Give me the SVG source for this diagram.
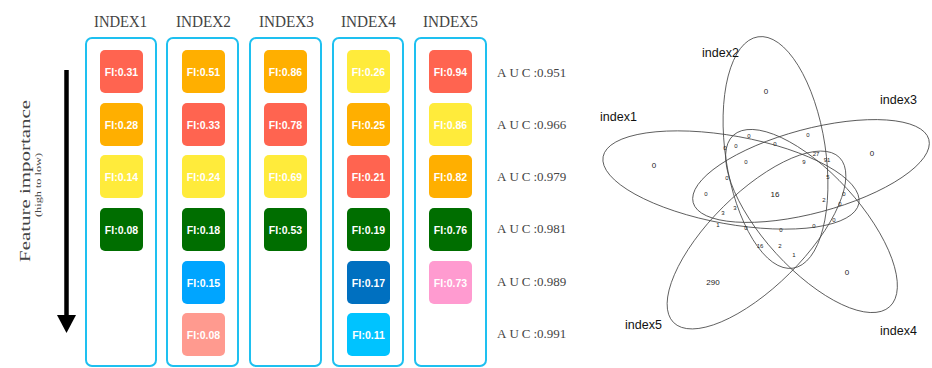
<svg xmlns="http://www.w3.org/2000/svg" width="932" height="368" viewBox="0 0 932 368">
<style>
.hdr{font-family:"Liberation Serif",serif;font-size:17px;fill:#444}
.col{fill:none;stroke:#1EC0F0;stroke-width:2}
.fi{stroke:none}
.fit{font-family:"Liberation Sans",Arial,sans-serif;font-size:10.5px;font-weight:bold;fill:#fff;text-anchor:middle}
.auc{font-family:"Liberation Serif",serif;font-size:13px;fill:#444}
.ax{font-family:"Liberation Serif",serif;fill:#444;text-anchor:middle}
.ell{fill:none;stroke:#444;stroke-width:0.8}
.sn{font-family:"Liberation Sans",Arial,sans-serif;font-size:12.5px;fill:#111}
.n{font-family:"Liberation Sans",Arial,sans-serif;font-size:6px;fill:#222;text-anchor:middle}
.nb{font-family:"Liberation Sans",Arial,sans-serif;font-size:8px;fill:#222;text-anchor:middle}
.red{fill:#FF6450}.org{fill:#FFAF00}.yel{fill:#FFEB3B}.grn{fill:#006E00}.blu{fill:#00A5FF}.sal{fill:#FF9A8F}.dbl{fill:#0070C0}.cyn{fill:#00C3FF}.pnk{fill:#FF9BD0}
</style>

<g id="axis">
<line x1="66.5" y1="70" x2="66.5" y2="318" stroke="#000" stroke-width="4.5"/>
<polygon points="57,315 76,315 66.5,333" fill="#000"/>
<text class="ax" font-size="15" transform="translate(30,181) rotate(-90)" textLength="162" lengthAdjust="spacingAndGlyphs">Feature importance</text>
<text class="ax" font-size="9" transform="translate(41,185) rotate(-90)" textLength="64" lengthAdjust="spacingAndGlyphs">(high to low)</text>
</g>

<g id="index1">
<text class="hdr" x="94" y="27" textLength="53" lengthAdjust="spacingAndGlyphs">INDEX1</text>
<rect class="col" x="86" y="38" width="70" height="328" rx="6"/>
<rect class="fi red" x="100" y="50" width="43" height="43" rx="5"/><text class="fit" x="121.5" y="75.5">FI:0.31</text>
<rect class="fi org" x="100" y="103" width="43" height="43" rx="5"/><text class="fit" x="121.5" y="128.5">FI:0.28</text>
<rect class="fi yel" x="100" y="155" width="43" height="43" rx="5"/><text class="fit" x="121.5" y="180.5">FI:0.14</text>
<rect class="fi grn" x="100" y="208" width="43" height="43" rx="5"/><text class="fit" x="121.5" y="233.5">FI:0.08</text>
</g>

<g id="index2">
<text class="hdr" x="176" y="27" textLength="55" lengthAdjust="spacingAndGlyphs">INDEX2</text>
<rect class="col" x="167" y="38" width="71" height="328" rx="6"/>
<rect class="fi org" x="182" y="50" width="43" height="43" rx="5"/><text class="fit" x="203.5" y="75.5">FI:0.51</text>
<rect class="fi red" x="182" y="103" width="43" height="43" rx="5"/><text class="fit" x="203.5" y="128.5">FI:0.33</text>
<rect class="fi yel" x="182" y="155" width="43" height="43" rx="5"/><text class="fit" x="203.5" y="180.5">FI:0.24</text>
<rect class="fi grn" x="182" y="208" width="43" height="43" rx="5"/><text class="fit" x="203.5" y="233.5">FI:0.18</text>
<rect class="fi blu" x="182" y="261" width="43" height="43" rx="5"/><text class="fit" x="203.5" y="286.5">FI:0.15</text>
<rect class="fi sal" x="182" y="313" width="43" height="43" rx="5"/><text class="fit" x="203.5" y="338.5">FI:0.08</text>
</g>

<g id="index3">
<text class="hdr" x="259" y="27" textLength="55" lengthAdjust="spacingAndGlyphs">INDEX3</text>
<rect class="col" x="250" y="38" width="71" height="328" rx="6"/>
<rect class="fi org" x="264" y="50" width="43" height="43" rx="5"/><text class="fit" x="285.5" y="75.5">FI:0.86</text>
<rect class="fi red" x="264" y="103" width="43" height="43" rx="5"/><text class="fit" x="285.5" y="128.5">FI:0.78</text>
<rect class="fi yel" x="264" y="155" width="43" height="43" rx="5"/><text class="fit" x="285.5" y="180.5">FI:0.69</text>
<rect class="fi grn" x="264" y="208" width="43" height="43" rx="5"/><text class="fit" x="285.5" y="233.5">FI:0.53</text>
</g>

<g id="index4">
<text class="hdr" x="341" y="27" textLength="55" lengthAdjust="spacingAndGlyphs">INDEX4</text>
<rect class="col" x="333" y="38" width="70" height="328" rx="6"/>
<rect class="fi yel" x="347" y="50" width="43" height="43" rx="5"/><text class="fit" x="368.5" y="75.5">FI:0.26</text>
<rect class="fi org" x="347" y="103" width="43" height="43" rx="5"/><text class="fit" x="368.5" y="128.5">FI:0.25</text>
<rect class="fi red" x="347" y="155" width="43" height="43" rx="5"/><text class="fit" x="368.5" y="180.5">FI:0.21</text>
<rect class="fi grn" x="347" y="208" width="43" height="43" rx="5"/><text class="fit" x="368.5" y="233.5">FI:0.19</text>
<rect class="fi dbl" x="347" y="261" width="43" height="43" rx="5"/><text class="fit" x="368.5" y="286.5">FI:0.17</text>
<rect class="fi cyn" x="347" y="313" width="43" height="43" rx="5"/><text class="fit" x="368.5" y="338.5">FI:0.11</text>
</g>

<g id="index5">
<text class="hdr" x="423" y="27" textLength="55" lengthAdjust="spacingAndGlyphs">INDEX5</text>
<rect class="col" x="415" y="38" width="71" height="328" rx="6"/>
<rect class="fi red" x="429" y="50" width="43" height="43" rx="5"/><text class="fit" x="450.5" y="75.5">FI:0.94</text>
<rect class="fi yel" x="429" y="103" width="43" height="43" rx="5"/><text class="fit" x="450.5" y="128.5">FI:0.86</text>
<rect class="fi org" x="429" y="155" width="43" height="43" rx="5"/><text class="fit" x="450.5" y="180.5">FI:0.82</text>
<rect class="fi grn" x="429" y="208" width="43" height="43" rx="5"/><text class="fit" x="450.5" y="233.5">FI:0.76</text>
<rect class="fi pnk" x="429" y="261" width="43" height="43" rx="5"/><text class="fit" x="450.5" y="286.5">FI:0.73</text>
</g>

<g id="auc">
<text class="auc" x="497" y="77"><tspan letter-spacing="3">AUC</tspan>:0.951</text>
<text class="auc" x="497" y="129"><tspan letter-spacing="3">AUC</tspan>:0.966</text>
<text class="auc" x="497" y="181"><tspan letter-spacing="3">AUC</tspan>:0.979</text>
<text class="auc" x="497" y="233"><tspan letter-spacing="3">AUC</tspan>:0.981</text>
<text class="auc" x="497" y="286"><tspan letter-spacing="3">AUC</tspan>:0.989</text>
<text class="auc" x="497" y="338"><tspan letter-spacing="3">AUC</tspan>:0.991</text>
</g>

<g id="venn">
<ellipse class="ell" rx="130" ry="44" transform="translate(731,180) rotate(10.3)"/>
<ellipse class="ell" rx="117" ry="50" transform="translate(775.5,152.5) rotate(81.4)"/>
<ellipse class="ell" rx="122" ry="42" transform="translate(811,171) rotate(-15)"/>
<ellipse class="ell" rx="116" ry="48" transform="translate(811.5,221) rotate(47.6)"/>
<ellipse class="ell" rx="117" ry="47" transform="translate(756.5,240) rotate(-44.8)"/>
<text class="sn" x="600" y="121">index1</text>
<text class="sn" x="702" y="57">index2</text>
<text class="sn" x="880" y="104">index3</text>
<text class="sn" x="880" y="335">index4</text>
<text class="sn" x="625" y="329">index5</text>
<text class="nb" x="654" y="168">0</text>
<text class="nb" x="766" y="94">0</text>
<text class="nb" x="872" y="156">0</text>
<text class="nb" x="847" y="275">0</text>
<text class="nb" x="713" y="285">290</text>
<text class="nb" x="775" y="197" font-size="9.5">16</text>
<text class="n" x="749" y="138">0</text>
<text class="n" x="808" y="137">0</text>
<text class="n" x="725" y="150">0</text>
<text class="n" x="736" y="148">0</text>
<text class="n" x="775" y="146">0</text>
<text class="n" x="816" y="156">27</text>
<text class="n" x="827" y="162">91</text>
<text class="n" x="746" y="164">0</text>
<text class="n" x="804" y="164">9</text>
<text class="n" x="727" y="180">0</text>
<text class="n" x="828" y="179">5</text>
<text class="n" x="706" y="196">0</text>
<text class="n" x="844" y="196">0</text>
<text class="n" x="824" y="202">2</text>
<text class="n" x="840" y="206">0</text>
<text class="n" x="723" y="215">3</text>
<text class="n" x="735" y="210">3</text>
<text class="n" x="718" y="227">1</text>
<text class="n" x="746" y="230">0</text>
<text class="n" x="781" y="232">0</text>
<text class="n" x="814" y="228">0</text>
<text class="n" x="834" y="222">0</text>
<text class="n" x="760" y="248">16</text>
<text class="n" x="780" y="248">2</text>
<text class="n" x="794" y="257">1</text>
</g>
</svg>
